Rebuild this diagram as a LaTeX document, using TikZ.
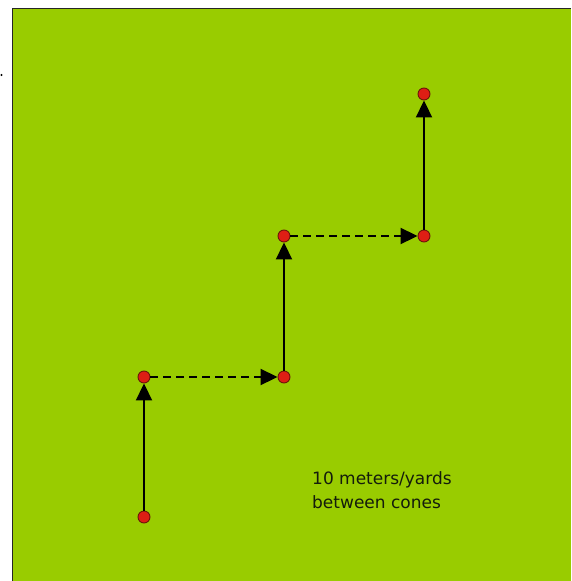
\documentclass[tikz,border=0pt]{standalone}
\usepackage{fontspec}
\newfontfamily\labelfont{DejaVu Sans}
\usetikzlibrary{arrows.meta}
\definecolor{pitch}{RGB}{153,204,0}
\definecolor{conered}{RGB}{222,30,20}
\definecolor{coneedge}{RGB}{110,20,10}
\definecolor{textdark}{RGB}{20,28,12}
\begin{document}
\begin{tikzpicture}[x=1pt,y=-1pt,
  cone/.style={circle,minimum size=12pt,inner sep=0pt,fill=conered,draw=coneedge,line width=0.9pt},
  run/.style={line width=1.9pt,draw=black,-{Triangle[length=17pt,width=16pt]}},
  jog/.style={run,dash pattern=on 8pt off 5pt},
  note/.style={anchor=base west,inner sep=0pt,text=textdark,font=\labelfont\fontsize{17}{20}\selectfont}]
  \useasboundingbox (0,0) rectangle (571,581);
  % playing field with its frame on the top and left
  \fill[white] (0,0) rectangle (571,581);
  \fill[pitch] (13,9) rectangle (571,581);
  \draw[black!85,line width=1.6pt] (12.5,581) -- (12.5,8.5) -- (571,8.5);
  \fill[black] (1.5,75) circle (1.2pt);
  % cones
  \node[cone] (c1) at (144,517) {};
  \node[cone] (c2) at (144,377) {};
  \node[cone] (c3) at (284,377) {};
  \node[cone] (c4) at (284,236) {};
  \node[cone] (c5) at (424,236) {};
  \node[cone] (c6) at (424,94) {};
  % runs between cones
  \draw[run] (c1) -- (c2);
  \draw[jog] (c2) -- (c3);
  \draw[run] (c3) -- (c4);
  \draw[jog] (c4) -- (c5);
  \draw[run] (c5) -- (c6);
  % distance note
  \node[note] (n1) at (312,484) {10 meters/yards};
  \node[note] (n2) at (312,508) {between cones};
\end{tikzpicture}
\end{document}
